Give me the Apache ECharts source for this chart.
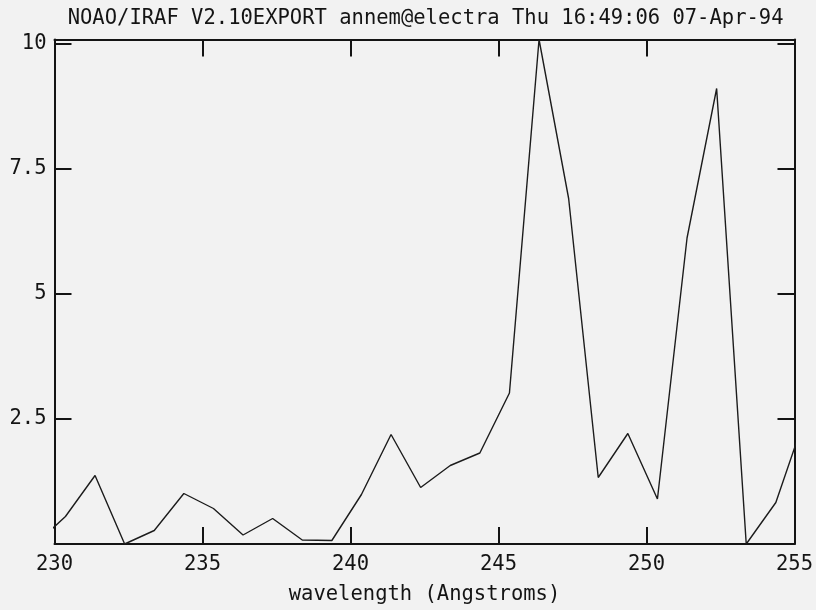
<!DOCTYPE html>
<html>
<head>
<meta charset="utf-8">
<title>NOAO/IRAF spectrum plot</title>
<script src="https://cdn.jsdelivr.net/npm/echarts@6/dist/echarts.min.js"></script>
<style>
  html, body { margin: 0; padding: 0; background: #f2f2f2; }
  #chart { width: 816px; height: 610px; }
</style>
</head>
<body>
<div id="chart"></div>
<script>
// Pixel wavelengths (Angstroms); the first and last lie just outside the plotted window
var wavelength = [229.37, 230.37, 231.37, 232.37, 233.37, 234.37, 235.37, 236.37, 237.37,
                  238.37, 239.37, 240.37, 241.37, 242.37, 243.37, 244.37, 245.37, 246.37,
                  247.37, 248.37, 249.37, 250.37, 251.37, 252.37, 253.37, 254.37, 255.37];
// Flux per pixel
var flux = [0.00, 0.55, 1.37, 0.00, 0.27, 1.01, 0.71, 0.18, 0.51,
            0.08, 0.07, 0.99, 2.19, 1.13, 1.57, 1.82, 3.02, 10.09,
            6.91, 1.33, 2.21, 0.90, 6.12, 9.11, 0.00, 0.83, 2.56];

var xTicks = [230, 235, 240, 245, 250, 255];
var yTicks = [2.5, 5, 7.5, 10];

var titleText = 'NOAO/IRAF V2.10EXPORT annem@electra Thu 16:49:06 07-Apr-94';
var xAxisName = 'wavelength (Angstroms)';

var FONT = '"DejaVu Sans Mono", "Liberation Mono", monospace';
var FONT_SIZE = 20.5;
var INK = '#141414';

var points = wavelength.map(function (w, i) { return [w, flux[i]]; });

// Autoscaled to the data extent, as the plotting task does
var xMin = xTicks[0], xMax = xTicks[xTicks.length - 1];
var yMin = Math.min.apply(null, flux), yMax = Math.max.apply(null, flux);

function xLabel(v) {
  return xTicks.indexOf(v) >= 0 ? String(v) : '';
}
function yLabel(v) {
  return yTicks.indexOf(v) >= 0 ? String(v) : '';
}

var frameLine = { show: true, onZero: false, lineStyle: { color: INK, width: 2 } };
var innerTick = { show: true, inside: true, length: 17, lineStyle: { color: INK, width: 2 } };

var chart = echarts.init(document.getElementById('chart'), null, { renderer: 'canvas' });

chart.setOption({
  backgroundColor: '#f2f2f2',
  animation: false,
  grid: { left: 54.5, right: 19.3, top: 39.5, bottom: 65.5, containLabel: false },
  graphic: [{
    type: 'text',
    x: 425.6,
    y: 19,
    style: {
      text: titleText,
      font: FONT_SIZE + 'px ' + FONT,
      fill: INK,
      textAlign: 'center',
      textVerticalAlign: 'middle'
    }
  }],
  xAxis: [{
    type: 'value',
    position: 'bottom',
    min: xMin, max: xMax, interval: 5,
    axisLine: frameLine,
    axisTick: innerTick,
    splitLine: { show: false },
    axisLabel: {
      formatter: xLabel, color: INK, fontFamily: FONT, fontSize: FONT_SIZE, margin: 10
    },
    name: xAxisName,
    nameLocation: 'middle',
    nameGap: 40,
    nameTextStyle: { color: INK, fontFamily: FONT, fontSize: FONT_SIZE }
  }, {
    type: 'value',
    position: 'top',
    min: xMin, max: xMax, interval: 5,
    axisLine: frameLine,
    axisTick: innerTick,
    splitLine: { show: false },
    axisLabel: { show: false }
  }],
  yAxis: [{
    type: 'value',
    position: 'left',
    min: yMin, max: yMax, interval: 2.5,
    axisLine: frameLine,
    axisTick: innerTick,
    splitLine: { show: false },
    axisLabel: {
      formatter: yLabel, color: INK, fontFamily: FONT, fontSize: FONT_SIZE, margin: 8,
      showMaxLabel: false
    }
  }, {
    type: 'value',
    position: 'right',
    min: yMin, max: yMax, interval: 2.5,
    axisLine: frameLine,
    axisTick: innerTick,
    splitLine: { show: false },
    axisLabel: { show: false }
  }],
  series: [{
    type: 'line',
    data: points,
    xAxisIndex: 0,
    yAxisIndex: 0,
    clip: true,
    showSymbol: false,
    symbol: 'none',
    lineStyle: { color: '#1c1c1c', width: 1.4 }
  }]
});
</script>
</body>
</html>
